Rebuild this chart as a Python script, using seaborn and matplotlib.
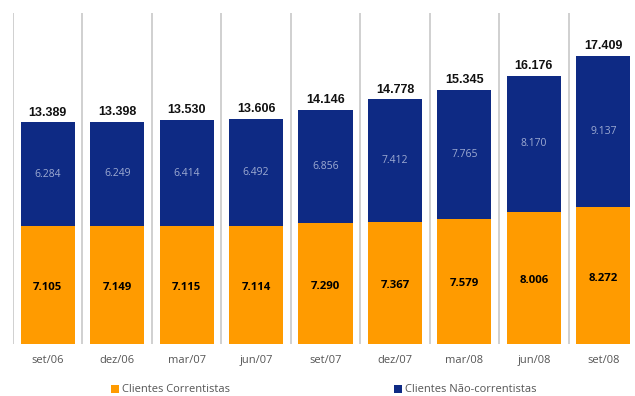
import matplotlib
matplotlib.use("Agg")
import matplotlib.pyplot as plt
from matplotlib.patches import Patch
import seaborn as sns
import pandas as pd

# Quarterly client base (thousands)
periodos = ["set/06", "dez/06", "mar/07", "jun/07", "set/07", "dez/07", "mar/08", "jun/08", "set/08"]
correntistas = [7105, 7149, 7115, 7114, 7290, 7367, 7579, 8006, 8272]
nao_correntistas = [6284, 6249, 6414, 6492, 6856, 7412, 7765, 8170, 9137]
totais = [13389, 13398, 13530, 13606, 14146, 14778, 15345, 16176, 17409]

LARANJA = "#FF9B00"
AZUL = "#0E2A84"

def fmt(v):
    return f"{v:,}".replace(",", ".")

df = pd.DataFrame({"periodo": periodos, "corr": correntistas,
                   "nao": nao_correntistas, "total": totais})

sns.set_style("white")
plt.rcParams["font.family"] = ["Open Sans", "DejaVu Sans"]

W, H = 635, 396
fig = plt.figure(figsize=(W / 100, H / 100), dpi=100)
ax = fig.add_axes([13 / W, 52 / H, 625 / W, 331 / H])

# Stacked bars: full total in navy, account holders in orange on top of it
sns.barplot(data=df, x="periodo", y="total", color=AZUL, width=0.78,
            saturation=1, linewidth=0, edgecolor="none", ax=ax)
sns.barplot(data=df, x="periodo", y="corr", color=LARANJA, width=0.78,
            saturation=1, linewidth=0, edgecolor="none", ax=ax)

ax.set_xlim(-0.5, len(periodos) - 0.5)
ax.set_ylim(0, 20000)

# Light vertical separators between periods
for i in range(len(periodos) + 1):
    ax.axvline(i - 0.5, color="#C4C4C4", lw=1.1, zorder=0)

for i, (c, n, t) in enumerate(zip(correntistas, nao_correntistas, totais)):
    ax.text(i, t + 230, fmt(t), ha="center", va="bottom", fontsize=9,
            fontweight="bold", family=["Liberation Sans", "DejaVu Sans"], color="#111111")
    ax.text(i, c / 2 - 150, fmt(c), ha="center", va="center", fontsize=8.2,
            fontweight="bold", color="#000000")
    ax.text(i, c + (t - c) / 2, fmt(n), ha="center", va="center", fontsize=7.5,
            color="#9DAAD2")

ax.set_xlabel("")
ax.set_ylabel("")
ax.set_yticks([])
ax.tick_params(axis="x", length=0, pad=8, labelsize=8, labelcolor="#555555")
for s in ax.spines.values():
    s.set_visible(False)

# Legend entries placed individually under the chart
for x0, cor, rotulo in [(111, LARANJA, "Clientes Correntistas"),
                        (394, AZUL, "Clientes Não-correntistas")]:
    leg = fig.legend(handles=[Patch(facecolor=cor, edgecolor="none", label=rotulo)],
                     loc="center left", bbox_to_anchor=(x0 / W, 1 - 390 / H),
                     frameon=False, borderpad=0, borderaxespad=0,
                     handlelength=0.75, handleheight=0.75, handletextpad=0.25,
                     fontsize=8, labelcolor="#555555")

fig.savefig("out.png", dpi=100)
